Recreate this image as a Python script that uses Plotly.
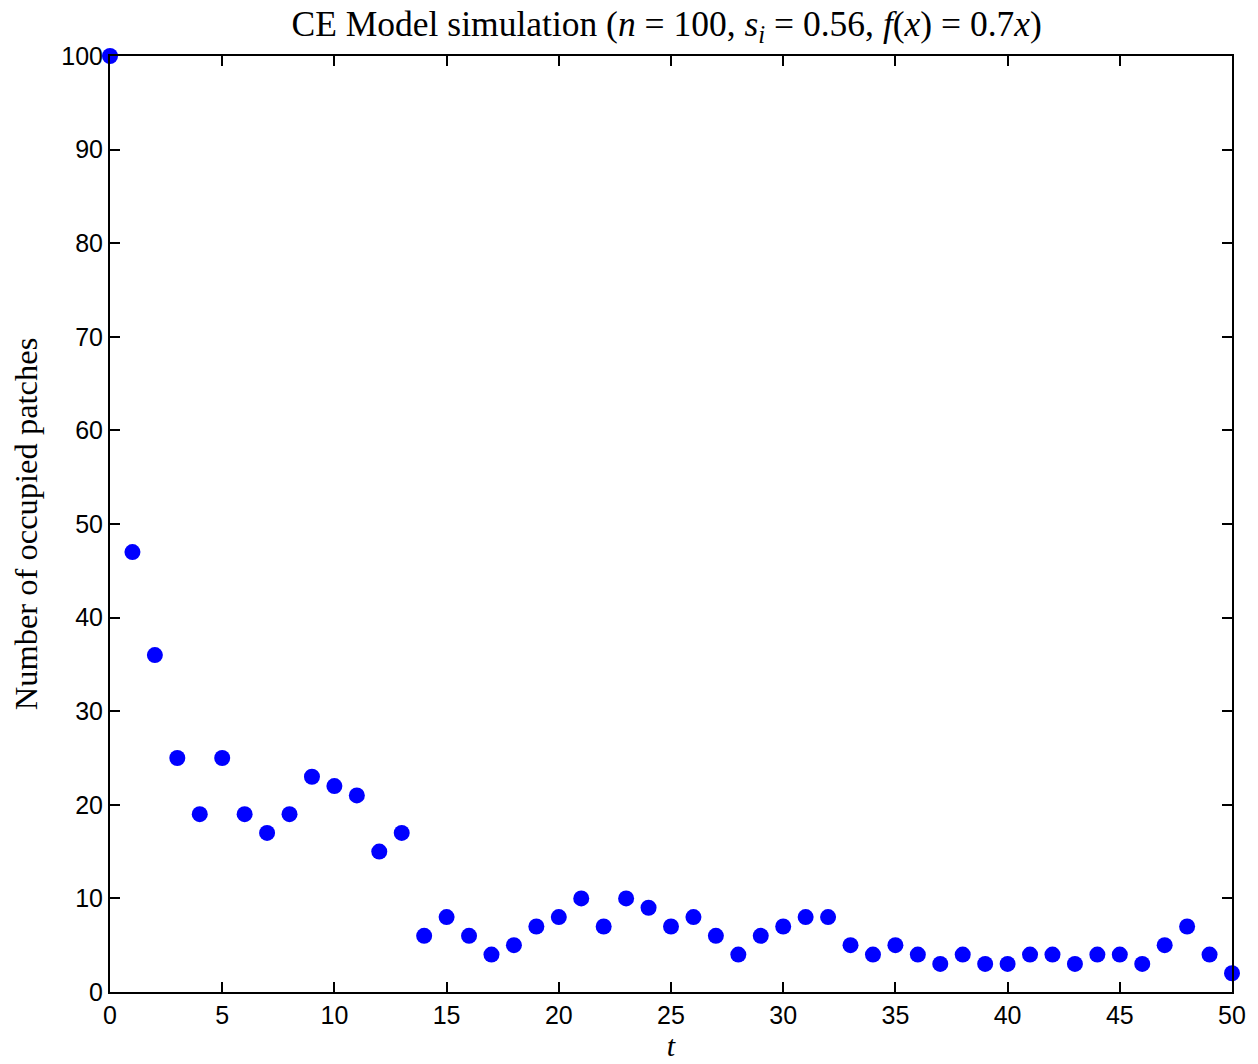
import plotly.graph_objects as go

t_values = list(range(0, 51))
occupied = [100, 47, 36, 25, 19, 25, 19, 17, 19, 23, 22, 21, 15, 17, 6, 8, 6, 4, 5, 7,
            8, 10, 7, 10, 9, 7, 8, 6, 4, 6, 7, 8, 8, 5, 4, 5, 4, 3, 4, 3,
            3, 4, 4, 3, 4, 4, 3, 5, 7, 4, 2]
x_ticks = list(range(0, 51, 5))
y_ticks = list(range(0, 101, 10))

fig = go.Figure()
fig.add_trace(go.Scatter(
    x=t_values, y=occupied, mode="markers",
    marker=dict(color="#0000ff", size=16, line=dict(width=0)),
    cliponaxis=False, showlegend=False,
))

axis_common = dict(
    showline=True, linecolor="black", linewidth=2, mirror="ticks",
    ticks="inside", ticklen=10, tickwidth=1.5, tickcolor="black",
    showgrid=False, zeroline=False,
    tickfont=dict(family="Liberation Sans, Arial, sans-serif", size=25, color="black"),
)

serif = "Liberation Serif, Times New Roman, serif"

fig.update_layout(
    width=1258, height=1064,
    plot_bgcolor="white", paper_bgcolor="white",
    margin=dict(l=110, r=21, t=56, b=68),
    title=dict(
        text="CE Model simulation (<i>n</i> = 100, <i>s</i><sub><i>i</i></sub> = 0.56, <i>f</i>(<i>x</i>) = 0.7<i>x</i>)",
        x=0.530, xanchor="center", y=0.978, yanchor="middle",
        font=dict(family=serif, size=35.5, color="black"),
    ),
    xaxis=dict(
        range=[0, 50], tickvals=x_ticks,
        title=dict(text="<i>t</i>", standoff=2,
                   font=dict(family=serif, size=30, color="black")),
        **axis_common,
    ),
    yaxis=dict(
        range=[0, 100], tickvals=y_ticks,
        title=dict(text="Number of occupied patches", standoff=14,
                   font=dict(family=serif, size=32.5, color="black")),
        **axis_common,
    ),
)

fig.write_html(
    "out.html",
    config={"displayModeBar": False},
    post_script=(
        "var de=document.documentElement, b=document.body;"
        "[de,b].forEach(function(e){e.style.margin='0';e.style.padding='0';"
        "e.style.overflow='hidden';e.style.height='1064px';e.style.width='1258px';});"
        "var g=document.getElementById('{plot_id}');"
        "if(g&&g.parentElement){g.parentElement.style.lineHeight='0';"
        "g.parentElement.style.fontSize='0';g.parentElement.style.height='1064px';"
        "g.parentElement.style.overflow='hidden';}"
    ),
)
